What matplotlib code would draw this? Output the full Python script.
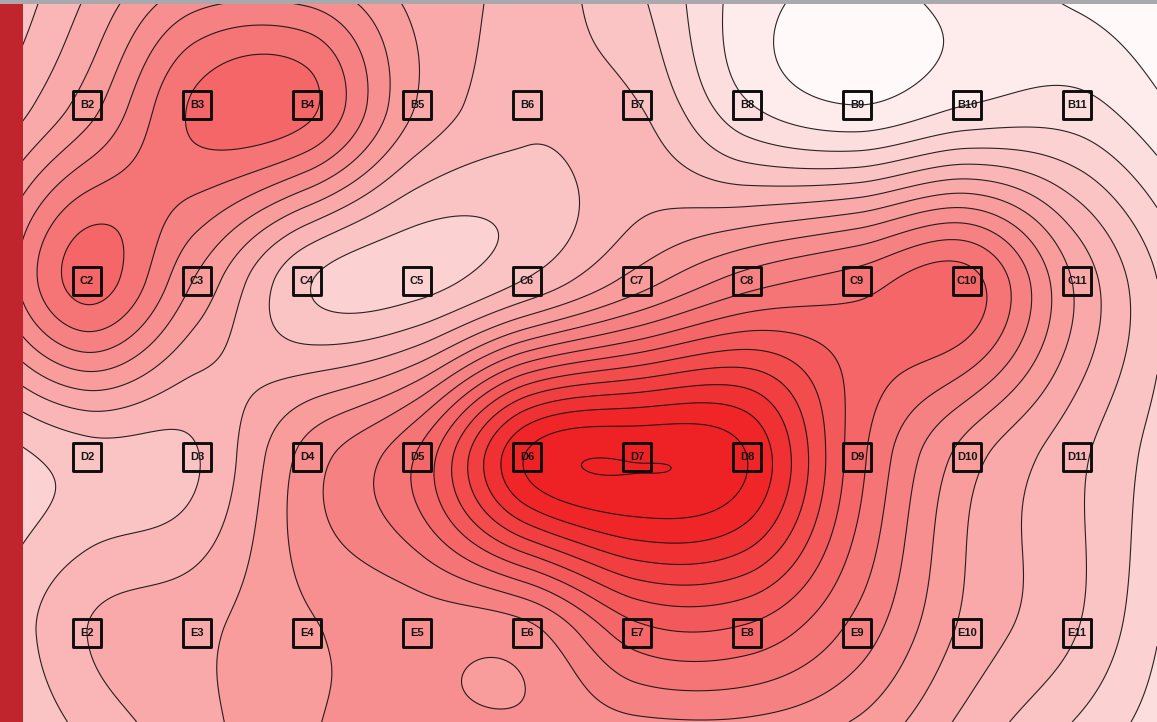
import matplotlib
matplotlib.use("Agg")
import matplotlib.pyplot as plt
import numpy as np
from matplotlib.colors import LinearSegmentedColormap
from matplotlib.patches import Rectangle

# sensor readings, rows A..F (A and F and columns 1, 12 sit outside the view)
row_a = [3.0, 5.3, 6.2, 6.0, 6.2, 5.8, 3.7, 1.7, 1.2, 1.5, 0.1, -0.5]
row_b = [4.5, 7.5, 11.2, 11.3, 6.95, 5.32, 5.05, 2.1, 1.0, 2.0, 2.3, 0.7]
row_c = [7.0, 11.45, 7.85, 4.1, 3.6, 5.1, 7.45, 9.5, 10.5, 11.4, 6.8, 3.0]
row_d = [3.3, 4.5, 4.95, 8.4, 11.1, 17.1, 17.95, 17.0, 11.4, 7.5, 5.25, 3.0]
row_e = [3.6, 6.0, 6.75, 7.9, 8.3, 8.62, 11.6, 11.7, 9.6, 6.7, 5.0, 2.3]
row_f = [2.5, 4.3, 6.3, 8.0, 8.4, 8.7, 6.2, 6.0, 6.0, 4.6, 2.6, 1.8]

row_names = ["B", "C", "D", "E"]
col_numbers = list(range(2, 12))
levels = list(range(1, 19))

W, H = 1157, 722


def smooth(vals, pos, axis):
    # catmull-rom along one axis, pos in units of grid cells
    vals = np.moveaxis(np.asarray(vals, dtype=float), axis, 0)
    pad = np.concatenate([[2 * vals[0] - vals[1]], vals, [2 * vals[-1] - vals[-2]]])
    i = np.clip(np.floor(pos).astype(int), 0, len(vals) - 2)
    t = (pos - i).reshape((-1,) + (1,) * (vals.ndim - 1))
    p0, p1, p2, p3 = pad[i], pad[i + 1], pad[i + 2], pad[i + 3]
    out = 0.5 * (2 * p1 + (p2 - p0) * t + (2 * p0 - 5 * p1 + 4 * p2 - p3) * t**2
                 + (3 * p1 - p0 - 3 * p2 + p3) * t**3)
    return np.moveaxis(out, 0, axis)


grid = np.array([row_a, row_b, row_c, row_d, row_e, row_f])

# view limits in sensor units: column number on x, row index (A=0) on y
x0, x1 = 2 - 87 / 110, 2 + (W - 87) / 110
y0, y1 = 1 - 105 / 176, 1 + (H - 105) / 176

xs = np.linspace(x0, x1, 520)
ys = np.linspace(y0, y1, 330)
zz = smooth(smooth(grid, ys, 0), xs - 1, 1)

cmap = LinearSegmentedColormap.from_list("reds", [(0, "#fff9f9"), (0.93, "#ef2628"), (1, "#ee2224")], N=18)
colors = [cmap(i) for i in range(18)] + [cmap(17)]

fig = plt.figure(figsize=(W / 100, H / 100), dpi=100)
ax = fig.add_axes([0, 0, 1, 1])
ax.contourf(xs, ys, zz, levels=levels, colors=colors, extend="both")
ax.contour(xs, ys, zz, levels=levels, colors="#111111", linewidths=0.8, alpha=0.9)

sx, sy, names = [], [], []
for r, rn in enumerate(row_names):
    for c in col_numbers:
        sx.append(c)
        sy.append(r + 1)
        names.append(f"{rn}{c}")
ax.scatter(sx, sy, marker="s", s=420, facecolors="none", edgecolors="#0d0d0d", linewidths=2.1, zorder=3)
for px, py, name in zip(sx, sy, names):
    ax.text(px, py, name, ha="center", va="center", fontsize=8, fontweight="bold",
            family="Liberation Sans", color="#151515", zorder=4)

ax.set_xlim(x0, x1)
ax.set_ylim(y1, y0)
ax.axis("off")

# red strip on the left, grey strip along the top
fig.add_artist(Rectangle((0, 0), 22.5 / W, 1, transform=fig.transFigure, color="#c0242c", lw=0))
fig.add_artist(Rectangle((0, 1 - 4 / H), 1, 4 / H, transform=fig.transFigure, color="#a9a9ad", lw=0))

fig.savefig("out.png", dpi=100)
